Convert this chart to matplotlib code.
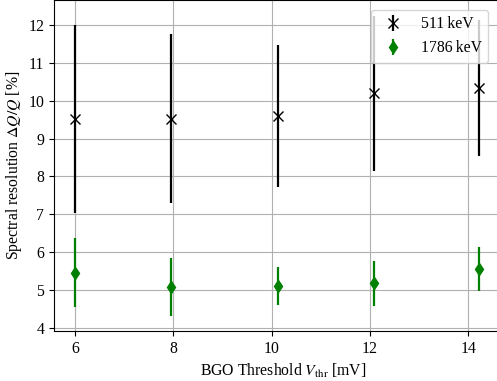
import matplotlib
matplotlib.use("Agg")
import matplotlib.pyplot as plt

plt.rcParams['font.family'] = 'serif'
plt.rcParams['font.serif'] = ['Liberation Serif', 'DejaVu Serif']
plt.rcParams['mathtext.fontset'] = 'stix'
plt.rcParams['font.size'] = 11.3

# thresholds (mV)
thr_511 = [6.0, 7.95, 10.13, 12.08, 14.21]
res_511 = [9.52, 9.52, 9.59, 10.2, 10.34]
err_511 = [2.48, 2.23, 1.87, 2.05, 1.8]

thr_1786 = [6.0, 7.95, 10.13, 12.08, 14.21]
res_1786 = [5.46, 5.08, 5.11, 5.18, 5.56]
err_1786 = [0.91, 0.76, 0.51, 0.59, 0.58]

fig = plt.figure(figsize=(4.97, 3.81), dpi=100)
ax = fig.add_axes([54 / 497, 50 / 381, 458 / 497, 331 / 381])

ax.errorbar(thr_511, res_511, yerr=err_511, fmt='x', color='black',
            ecolor='black', elinewidth=1.6, markersize=6.5, label='511\u2009keV')
ax.errorbar(thr_1786, res_1786, yerr=err_1786, fmt='d', color='green',
            ecolor='green', elinewidth=1.6, markersize=6.5, label='1786\u2009keV')

ax.set_xlim(5.57, 14.89)
ax.set_ylim(3.92, 12.66)
ax.set_xticks([6, 8, 10, 12, 14])
ax.set_yticks(range(4, 13))
ax.grid(True, color='#b0b0b0', linewidth=0.8)
ax.set_axisbelow(True)

ax.set_xlabel(r'BGO Threshold $V_{\mathrm{thr}}$ [mV]', labelpad=4)
ax.set_ylabel(r'Spectral resolution $\Delta Q/Q$ [%]', labelpad=3)
ax.legend(loc='upper right', bbox_to_anchor=(0.965, 0.993))

fig.savefig('out.png', dpi=100)
